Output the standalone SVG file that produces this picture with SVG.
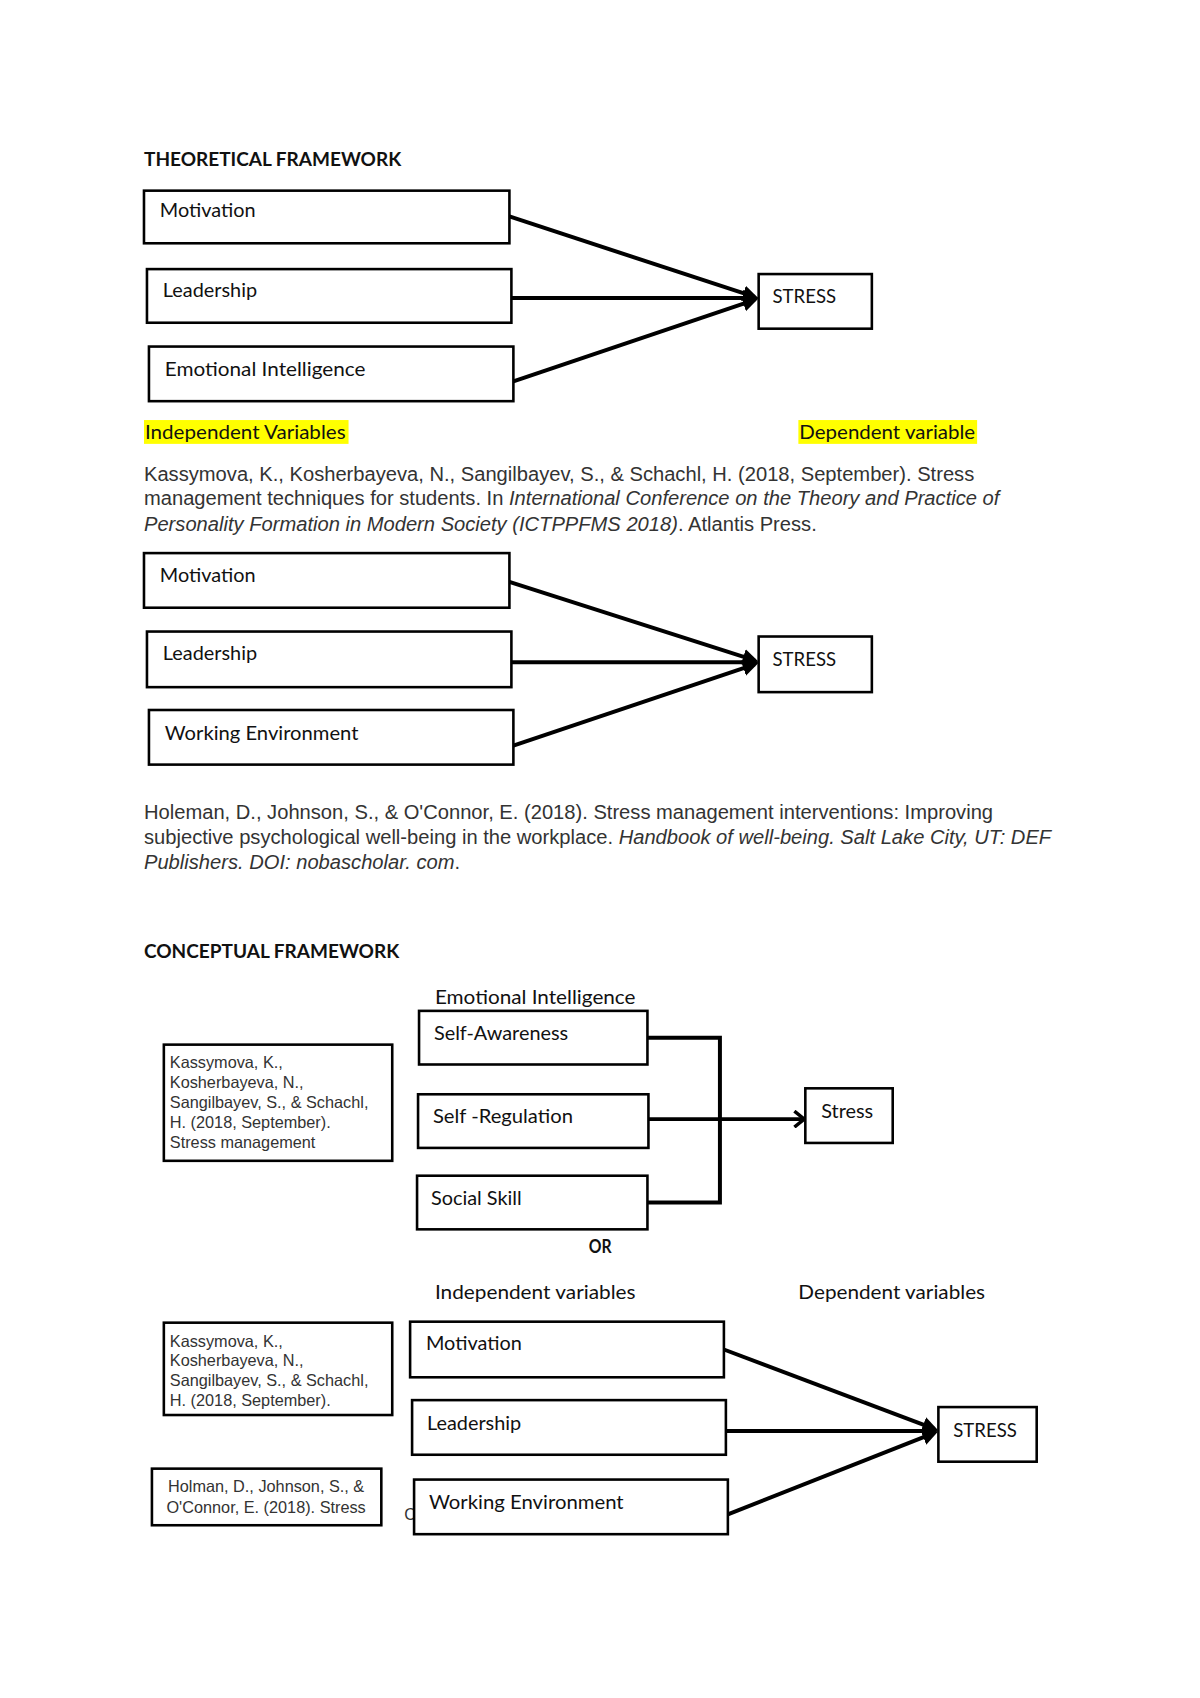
<svg xmlns="http://www.w3.org/2000/svg" width="1200" height="1698" viewBox="0 0 1200 1698">
<style>
.box{fill:#fff;stroke:#000;stroke-width:2.6}
.lbl{font-family:Lato,"Open Sans","Liberation Sans",sans-serif;font-size:20px;fill:#111}
.hd{font-family:Lato,"Open Sans","Liberation Sans",sans-serif;font-size:20px;font-weight:bold;fill:#111}
.cit{font-family:"Liberation Sans",Arial,sans-serif;font-size:20.3px;fill:#333}
.sm{font-family:"Liberation Sans",Arial,sans-serif;font-size:16.4px;fill:#333}
.ar{stroke:#000;stroke-width:4;fill:none;marker-end:url(#ah)}
.br{stroke:#000;stroke-width:4;fill:none}
.hl{fill:#ffff00}
</style>
<defs>
<marker id="ah" viewBox="0 0 12 12" refX="9" refY="6" markerWidth="16" markerHeight="17" markerUnits="userSpaceOnUse" orient="auto"><path d="M0,0 L12,6 L0,12 z" fill="#000"/></marker>
<marker id="ch" viewBox="0 0 12 18" refX="11" refY="9" markerWidth="12" markerHeight="18" markerUnits="userSpaceOnUse" orient="auto"><path d="M1,1 L11,9 L1,17" fill="none" stroke="#000" stroke-width="3.5"/></marker>
</defs>
<rect width="1200" height="1698" fill="#fff"/>
<g transform="scale(0.993)">

<text class="hd" x="145" y="167" textLength="259" lengthAdjust="spacingAndGlyphs">THEORETICAL FRAMEWORK</text>

<g id="connectors">
<line class="ar" x1="513" y1="218" x2="760" y2="299"/>
<line class="ar" x1="515" y1="300" x2="760" y2="300"/>
<line class="ar" x1="517" y1="384" x2="760" y2="302"/>
<line class="ar" x1="513" y1="586" x2="760" y2="665"/>
<line class="ar" x1="515" y1="667" x2="760" y2="667"/>
<line class="ar" x1="517" y1="751" x2="760" y2="669"/>
<polyline class="br" points="652,1045 725,1045 725,1211 652,1211"/>
<line class="br" x1="653" y1="1127" x2="810" y2="1127" marker-end="url(#ch)"/>
<line class="ar" x1="729" y1="1359" x2="941" y2="1439"/>
<line class="ar" x1="731" y1="1441" x2="941" y2="1441"/>
<line class="ar" x1="733" y1="1525" x2="941" y2="1443"/>
</g>

<g id="t-motivation"><rect class="box" x="145" y="192" width="368" height="53"/><text class="lbl" x="161" y="219">Motivation</text></g>
<g id="t-leadership"><rect class="box" x="148" y="271" width="367" height="54"/><text class="lbl" x="164" y="299">Leadership</text></g>
<g id="t-ei"><rect class="box" x="150" y="349" width="367" height="55"/><text class="lbl" x="166" y="379" textLength="202" lengthAdjust="spacingAndGlyphs">Emotional Intelligence</text></g>
<g id="t-stress"><rect class="box" x="764" y="276" width="114" height="55"/><text class="lbl" x="778" y="305" textLength="64" lengthAdjust="spacingAndGlyphs">STRESS</text></g>

<g id="iv-label"><rect class="hl" x="145" y="423" width="206" height="24"/><text class="lbl" x="146" y="442" textLength="202" lengthAdjust="spacingAndGlyphs">Independent Variables</text></g>
<g id="dv-label"><rect class="hl" x="804" y="423" width="180" height="24"/><text class="lbl" x="805" y="442" textLength="177" lengthAdjust="spacingAndGlyphs">Dependent variable</text></g>

<g id="citation1">
<text class="cit" x="145" y="484">Kassymova, K., Kosherbayeva, N., Sangilbayev, S., &amp; Schachl, H. (2018, September). Stress</text>
<text class="cit" x="145" y="509">management techniques for students. In <tspan font-style="italic">International Conference on the Theory and Practice of</tspan></text>
<text class="cit" x="145" y="535"><tspan font-style="italic">Personality Formation in Modern Society (ICTPPFMS 2018)</tspan>. Atlantis Press.</text>
</g>

<g id="w-motivation"><rect class="box" x="145" y="557" width="368" height="55"/><text class="lbl" x="161" y="586">Motivation</text></g>
<g id="w-leadership"><rect class="box" x="148" y="636" width="367" height="56"/><text class="lbl" x="164" y="665">Leadership</text></g>
<g id="w-we"><rect class="box" x="150" y="715" width="367" height="55"/><text class="lbl" x="166" y="745" textLength="195" lengthAdjust="spacingAndGlyphs">Working Environment</text></g>
<g id="w-stress"><rect class="box" x="764" y="641" width="114" height="56"/><text class="lbl" x="778" y="671" textLength="64" lengthAdjust="spacingAndGlyphs">STRESS</text></g>

<g id="citation2">
<text class="cit" x="145" y="825">Holeman, D., Johnson, S., &amp; O'Connor, E. (2018). Stress management interventions: Improving</text>
<text class="cit" x="145" y="850">subjective psychological well-being in the workplace. <tspan font-style="italic">Handbook of well-being. Salt Lake City, UT: DEF</tspan></text>
<text class="cit" x="145" y="875"><tspan font-style="italic">Publishers. DOI: nobascholar. com</tspan>.</text>
</g>

<text class="hd" x="145" y="965" textLength="257" lengthAdjust="spacingAndGlyphs">CONCEPTUAL FRAMEWORK</text>
<text class="lbl" x="438" y="1011" textLength="202" lengthAdjust="spacingAndGlyphs">Emotional Intelligence</text>

<g id="c-cite"><rect class="box" x="165" y="1052" width="230" height="117"/>
<text class="sm" x="171" y="1076">Kassymova, K.,</text>
<text class="sm" x="171" y="1096">Kosherbayeva, N.,</text>
<text class="sm" x="171" y="1116">Sangilbayev, S., &amp; Schachl,</text>
<text class="sm" x="171" y="1136">H. (2018, September).</text>
<text class="sm" x="171" y="1156">Stress management</text>
</g>
<g id="c-sa"><rect class="box" x="422" y="1018" width="230" height="54"/><text class="lbl" x="437" y="1047">Self-Awareness</text></g>
<g id="c-sr"><rect class="box" x="421" y="1102" width="232" height="54"/><text class="lbl" x="436" y="1131" textLength="141" lengthAdjust="spacingAndGlyphs">Self -Regulation</text></g>
<g id="c-ss"><rect class="box" x="420" y="1184" width="232" height="54"/><text class="lbl" x="434" y="1213">Social Skill</text></g>
<g id="c-stress"><rect class="box" x="811" y="1096" width="88" height="55"/><text class="lbl" x="827" y="1126">Stress</text></g>

<text class="hd" x="593" y="1262" textLength="23" lengthAdjust="spacingAndGlyphs">OR</text>
<text class="lbl" x="438" y="1308" textLength="202" lengthAdjust="spacingAndGlyphs">Independent variables</text>
<text class="lbl" x="804" y="1308" textLength="188" lengthAdjust="spacingAndGlyphs">Dependent variables</text>

<g id="o-cite1"><rect class="box" x="165" y="1332" width="230" height="93"/>
<text class="sm" x="171" y="1356">Kassymova, K.,</text>
<text class="sm" x="171" y="1376">Kosherbayeva, N.,</text>
<text class="sm" x="171" y="1396">Sangilbayev, S., &amp; Schachl,</text>
<text class="sm" x="171" y="1416">H. (2018, September).</text>
</g>
<g id="o-cite2"><rect class="box" x="153" y="1479" width="231" height="57"/>
<text class="sm" x="268" y="1503" text-anchor="middle">Holman, D., Johnson, S., &amp;</text>
<text class="sm" x="268" y="1524" text-anchor="middle">O'Connor, E. (2018). Stress</text>
</g>
<text class="sm" x="407" y="1531">C</text>
<g id="o-motivation"><rect class="box" x="413" y="1331" width="316" height="56"/><text class="lbl" x="429" y="1360">Motivation</text></g>
<g id="o-leadership"><rect class="box" x="415" y="1410" width="316" height="55"/><text class="lbl" x="430" y="1440">Leadership</text></g>
<g id="o-we"><rect class="box" x="417" y="1490" width="316" height="55"/><text class="lbl" x="432" y="1520" textLength="196" lengthAdjust="spacingAndGlyphs">Working Environment</text></g>
<g id="o-stress"><rect class="box" x="945" y="1417" width="99" height="55"/><text class="lbl" x="960" y="1447" textLength="64" lengthAdjust="spacingAndGlyphs">STRESS</text></g>
</g>
</svg>
